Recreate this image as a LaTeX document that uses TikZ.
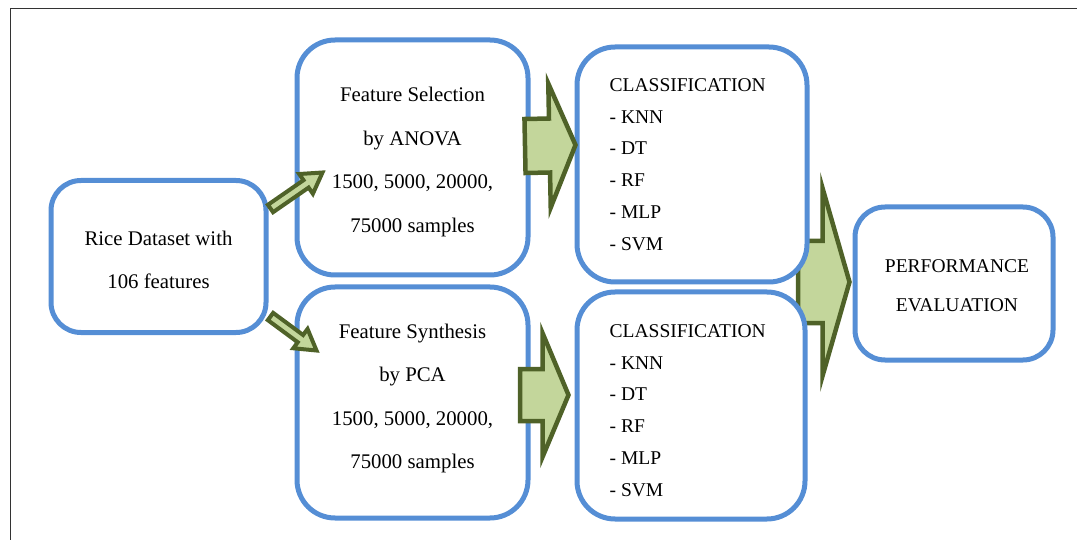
\documentclass[tikz,border=0pt]{standalone}
\usepackage{fontspec}
\setmainfont{Liberation Serif}
\newfontfamily\tnr{Liberation Serif}
\usetikzlibrary{calc,backgrounds}
\definecolor{boxblue}{RGB}{85,142,213}
\definecolor{arrfill}{RGB}{195,214,155}
\definecolor{arrdraw}{RGB}{79,98,40}
\tikzset{
  box/.style={draw=boxblue, line width=5pt, fill=white, rounded corners=#1, inner sep=0pt},
  box/.default=32pt,
  ctext/.style={align=center, inner sep=0pt, font=\tnr\fontsize{20.8}{43.5}\selectfont},
  ptext/.style={align=center, inner sep=0pt, font=\tnr\fontsize{19.5}{39}\selectfont},
  ltext/.style={align=left, inner sep=0pt, font=\tnr\fontsize{19.5}{31.8}\selectfont},
  blockarr/.style={draw=arrdraw, fill=arrfill, line width=#1, line join=miter},
  blockarr/.default=4.5pt
}
% tail, tip, shaft half width, head half width, head length, style
\newcommand\barrow[6]{%
  \coordinate (hb) at ($(#2)!#5!(#1)$);
  \draw[#6] ($(#1)!#3!90:(#2)$) -- ($(hb)!#3!90:(#2)$) -- ($(hb)!#4!90:(#2)$) -- (#2)
     -- ($(hb)!#4!-90:(#2)$) -- ($(hb)!#3!-90:(#2)$) -- ($(#1)!#3!-90:(#2)$) -- cycle;}
\begin{document}
\begin{tikzpicture}[x=1pt,y=-1pt]
\useasboundingbox (0,0) rectangle (1077,540);
\draw[line width=1.5pt, black!80] (10.5,560) -- (10.5,8.5) -- (1090,8.5);

\node[box=30pt, minimum width=215pt, minimum height=152pt] (rice) at (158.5,256.5) {};
\node[ctext] (riceT) at ($(rice)+(0,3.5)$) {Rice Dataset with\\106 features};
\node[box=38pt, minimum width=231pt, minimum height=235pt] (fsel) at (412.5,157.5) {};
\node[ctext] (fselT) at ($(fsel)+(0,4.5)$) {Feature Selection\\by ANOVA\\1500, 5000, 20000,\\75000 samples};
\node[box=38pt, minimum width=231pt, minimum height=231pt] (fsyn) at (412.5,402.5) {};
\node[ctext] (fsynT) at ($(fsyn)+(0,-4)$) {Feature Synthesis\\by PCA\\1500, 5000, 20000,\\75000 samples};
\node[box=38pt, minimum width=230pt, minimum height=235pt] (cls1) at (692,164.5) {};
\node[ltext, anchor=west] (cls1T) at ($(cls1.west)+(35,0)$) {CLASSIFICATION\\- KNN\\- DT\\- RF\\- MLP\\- SVM};
\node[box=38pt, minimum width=228pt, minimum height=227pt] (cls2) at (691,405.5) {};
\node[ltext, anchor=west] (cls2T) at ($(cls2.west)+(35,5)$) {CLASSIFICATION\\- KNN\\- DT\\- RF\\- MLP\\- SVM};
\node[box=30pt, minimum width=198pt, minimum height=153pt] (perf) at (954,283.5) {};
\node[ptext] (perfT) at ($(perf)+(3,2)$) {PERFORMANCE\\EVALUATION};

% big arrow to evaluation (behind boxes)
\begin{scope}[on background layer]
\coordinate (t3) at (798,282);
\coordinate (p3) at ($(perf.west)+(-3,-1.5)$);
\barrow{t3}{p3}{41pt}{94pt}{27pt}{blockarr}
\end{scope}

% small arrows from dataset
\coordinate (t1) at ($(rice.east)+(2,-48)$);
\coordinate (p1) at ($(fsel.west)+(28,15)$);
\barrow{t1}{p1}{4.5pt}{12pt}{20pt}{blockarr=4pt}
\coordinate (t2) at ($(rice.east)+(2,60)$);
\coordinate (p2) at ($(fsyn.west)+(22,-52)$);
\barrow{t2}{p2}{4.5pt}{12pt}{20pt}{blockarr=4pt}

% big arrows to classification
\coordinate (t4) at (525,146);
\coordinate (p4) at ($(cls1.west)+(1,-19.5)$);
\barrow{t4}{p4}{27pt}{62pt}{26pt}{blockarr}
\coordinate (t5) at (520,395);
\coordinate (p5) at ($(cls2.west)+(-6,-10.5)$);
\barrow{t5}{p5}{26pt}{62pt}{26pt}{blockarr}
\end{tikzpicture}
\end{document}
